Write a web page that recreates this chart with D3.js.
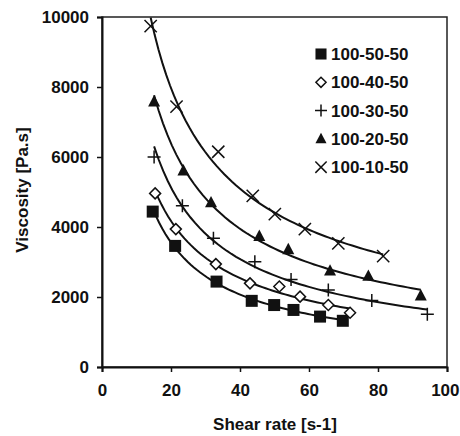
<!DOCTYPE html>
<html>
<head>
<meta charset="utf-8" />
<script src="https://d3js.org/d3.v7.min.js"></script>
<style>
  body { margin: 0; background: #fff; }
  text { font-family: "Liberation Sans", Arial, sans-serif; font-weight: bold; fill: #111; }
</style>
</head>
<body>
<svg id="chart" width="460" height="436"></svg>
<script>
// data
var seriesNames = ["100-50-50", "100-40-50", "100-30-50", "100-20-50", "100-10-50"];
var shearRate = [
  [14.7, 21.2, 33.2, 43.4, 49.9, 55.5, 63.2, 69.8],
  [15.4, 21.4, 33.0, 42.9, 51.4, 57.4, 65.6, 71.9],
  [15.1, 23.3, 32.3, 44.3, 54.8, 65.6, 78.2, 94.3],
  [15.1, 23.6, 31.6, 45.6, 54.0, 66.1, 77.2, 92.4],
  [14.1, 21.6, 33.7, 43.7, 50.1, 58.8, 68.5, 81.5]
];
var viscosity = [
  [4440, 3460, 2440, 1890, 1770, 1630, 1440, 1320],
  [4960, 3940, 2940, 2390, 2300, 2010, 1770, 1550],
  [6000, 4610, 3680, 3010, 2500, 2200, 1900, 1510],
  [7580, 5610, 4700, 3740, 3360, 2750, 2600, 2040],
  [9740, 7440, 6150, 4890, 4370, 3940, 3530, 3170]
];
var xTicks = [0, 20, 40, 60, 80, 100];
var yTicks = [0, 2000, 4000, 6000, 8000, 10000];

var svg = d3.select("#chart");
var margin = {top: 17, left: 102, right: 13, bottom: 69};
var W = 460, H = 436;

var x = d3.scaleLinear().domain([0, 100]).range([margin.left, W - margin.right]);
var y = d3.scaleLinear().domain([0, 10000]).range([H - margin.bottom, margin.top]);

// custom symbols
var plus = { draw: function(ctx, s) { var r = Math.sqrt(s) / 2;
  ctx.moveTo(-r, 0); ctx.lineTo(r, 0); ctx.moveTo(0, -r); ctx.lineTo(0, r); } };
var cross = { draw: function(ctx, s) { var r = Math.sqrt(s) / 2;
  ctx.moveTo(-r, -r); ctx.lineTo(r, r); ctx.moveTo(-r, r); ctx.lineTo(r, -r); } };
var diamond = { draw: function(ctx, s) { var r = Math.sqrt(s) / 2;
  ctx.moveTo(0, -r); ctx.lineTo(r, 0); ctx.lineTo(0, r); ctx.lineTo(-r, 0); ctx.closePath(); } };
var tri = { draw: function(ctx, s) { var r = Math.sqrt(s) / 2;
  ctx.moveTo(0, -r * 1.1); ctx.lineTo(r, r * 0.8); ctx.lineTo(-r, r * 0.8); ctx.closePath(); } };
var sq = { draw: function(ctx, s) { var r = Math.sqrt(s) / 2;
  ctx.rect(-r, -r, 2 * r, 2 * r); } };

var styles = [
  {type: sq, size: 144, fill: "#111", stroke: "none", sw: 0},
  {type: diamond, size: 121, fill: "#fff", stroke: "#111", sw: 1.5},
  {type: plus, size: 169, fill: "none", stroke: "#111", sw: 1.5},
  {type: tri, size: 144, fill: "#111", stroke: "none", sw: 0},
  {type: cross, size: 150, fill: "none", stroke: "#111", sw: 1.5}
];

// power-law fit lines
var line = d3.line().x(function(d) { return x(d[0]); }).y(function(d) { return y(d[1]); });
seriesNames.forEach(function(name, i) {
  var lx = shearRate[i].map(Math.log), ly = viscosity[i].map(Math.log);
  var mx = d3.mean(lx), my = d3.mean(ly);
  var b = d3.sum(lx, function(v, k) { return (v - mx) * (ly[k] - my); }) /
          d3.sum(lx, function(v) { return (v - mx) * (v - mx); });
  var a = Math.exp(my - b * mx);
  var x0 = d3.min(shearRate[i]), x1 = d3.max(shearRate[i]);
  var pts = d3.range(0, 61).map(function(k) { var xv = x0 + (x1 - x0) * k / 60; return [xv, a * Math.pow(xv, b)]; });
  svg.append("path").attr("d", line(pts))
    .attr("fill", "none").attr("stroke", "#111").attr("stroke-width", 2);
});

// markers
seriesNames.forEach(function(name, i) {
  var st = styles[i];
  svg.append("g").selectAll("path").data(shearRate[i]).enter().append("path")
    .attr("transform", function(d, k) { return "translate(" + x(d) + "," + y(viscosity[i][k]) + ")"; })
    .attr("d", d3.symbol().type(st.type).size(st.size))
    .attr("fill", st.fill).attr("stroke", st.stroke).attr("stroke-width", st.sw);
});

// frame
svg.append("rect").attr("x", x(0)).attr("y", y(10000))
  .attr("width", x(100) - x(0)).attr("height", y(0) - y(10000))
  .attr("fill", "none").attr("stroke", "#222").attr("stroke-width", 1.5);

// axes
var xAxis = svg.append("g").attr("transform", "translate(0," + y(0) + ")")
  .call(d3.axisBottom(x).tickValues(xTicks).tickFormat(d3.format("d")).tickSize(5).tickPadding(12));
var yAxis = svg.append("g").attr("transform", "translate(" + x(0) + ",0)")
  .call(d3.axisLeft(y).tickValues(yTicks).tickFormat(d3.format("d")).tickSize(5).tickPadding(8));
[xAxis, yAxis].forEach(function(g) {
  g.select(".domain").attr("stroke", "#111").attr("stroke-width", 2);
  g.selectAll(".tick line").attr("stroke", "#111").attr("stroke-width", 1.5);
  g.selectAll(".tick text").attr("font-size", 17).attr("font-family", "Liberation Sans, Arial, sans-serif")
    .attr("font-weight", "bold").attr("fill", "#111");
});
// last x label sits against the window edge
xAxis.selectAll(".tick text").filter(function(d) { return d === 100; })
  .attr("text-anchor", "end").attr("dx", 12);

svg.append("text").attr("x", 275).attr("y", 430).attr("text-anchor", "middle")
  .attr("font-size", 17).text("Shear rate [s-1]");
svg.append("text").attr("transform", "translate(28,190) rotate(-90)").attr("text-anchor", "middle")
  .attr("font-size", 17).text("Viscosity [Pa.s]");

// legend
var leg = svg.append("g");
seriesNames.forEach(function(name, i) {
  var st = styles[i];
  var ly = 54 + 28.3 * i;
  leg.append("path").attr("transform", "translate(321," + ly + ")")
    .attr("d", d3.symbol().type(st.type).size(st.size * 0.85))
    .attr("fill", st.fill).attr("stroke", st.stroke).attr("stroke-width", st.sw);
  leg.append("text").attr("x", 331).attr("y", ly + 6).attr("font-size", 17).text(name);
});
</script>
</body>
</html>
